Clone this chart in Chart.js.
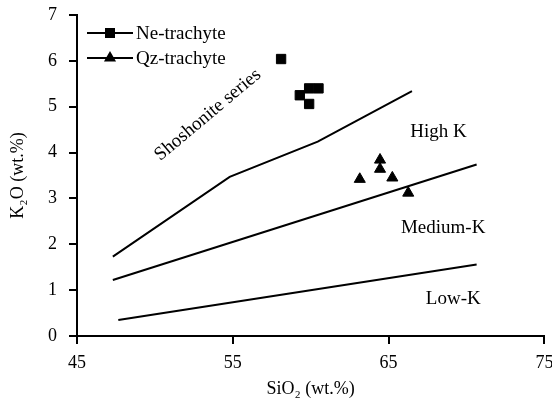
<!DOCTYPE html>
<html><head><meta charset="utf-8">
<script src="https://cdn.jsdelivr.net/npm/chart.js@4.4.1/dist/chart.umd.min.js"></script>
<style>html,body{margin:0;padding:0;background:#fff}</style>
</head><body>
<canvas id="c" width="552" height="406"></canvas>
<script>
// ---- data ----
const neTrachyteSiO2 = [58.1, 59.3, 59.9, 60.5, 59.9];
const neTrachyteK2O  = [6.04, 5.25, 5.40, 5.40, 5.06];
const qzTrachyteSiO2 = [64.45, 64.45, 63.15, 65.24, 66.26];
const qzTrachyteK2O  = [3.84, 3.64, 3.42, 3.45, 3.12];
const shoshoniteBoundarySiO2 = [47.3, 54.8, 60.45, 66.5];
const shoshoniteBoundaryK2O  = [1.73, 3.47, 4.24, 5.34];
const highKBoundarySiO2 = [47.3, 70.65];
const highKBoundaryK2O  = [1.22, 3.74];
const lowKBoundarySiO2 = [47.65, 70.65];
const lowKBoundaryK2O  = [0.35, 1.56];
const xTickValues = [45, 55, 65, 75];
const yTickValues = [0, 1, 2, 3, 4, 5, 6, 7];
const seriesNames = ['Ne-trachyte', 'Qz-trachyte'];
const regionNames = ['Shoshonite series', 'High K', 'Medium-K', 'Low-K'];
const regionSiO2 = [53.4, 68.2, 68.5, 69.15];
const regionK2O  = [4.82, 4.45, 2.36, 0.81];

const FONT = 'Liberation Serif, Times New Roman, serif';
const pts = (xs, ys) => xs.map((x, i) => ({x, y: ys[i]}));

const boundary = (xs, ys) => ({
  type: 'line', data: pts(xs, ys), showLine: true, pointRadius: 0,
  borderColor: '#000', borderWidth: 2, fill: false, tension: 0
});

const overlay = {
  id: 'overlay',
  afterDatasetsDraw(chart) {
    const ctx = chart.ctx;
    const xs = chart.scales.x, ys = chart.scales.y;
    ctx.save();
    ctx.fillStyle = '#000';
    ctx.strokeStyle = '#000';
    ctx.font = '19px ' + FONT;
    ctx.textBaseline = 'middle';
    // region labels
    regionNames.forEach((t, i) => {
      const px = xs.getPixelForValue(regionSiO2[i]);
      const py = ys.getPixelForValue(regionK2O[i]);
      ctx.save();
      ctx.translate(px, py);
      if (i === 0) ctx.rotate(-40 * Math.PI / 180);
      ctx.textAlign = 'center';
      ctx.fillText(t, 0, 0);
      ctx.restore();
    });
    // legend
    const rows = [33, 58];
    seriesNames.forEach((name, i) => {
      const y = rows[i];
      ctx.lineWidth = 2;
      ctx.beginPath(); ctx.moveTo(87, y); ctx.lineTo(133, y); ctx.stroke();
      const mx = 110;
      ctx.beginPath();
      if (i === 0) {
        ctx.rect(mx - 5, y - 5, 10, 10);
      } else {
        const r = 7;
        ctx.moveTo(mx, y - r);
        ctx.lineTo(mx + r * 0.866, y + r * 0.5);
        ctx.lineTo(mx - r * 0.866, y + r * 0.5);
        ctx.closePath();
      }
      ctx.fill();
      ctx.textAlign = 'left';
      ctx.fillText(name, 136, y + 1);
    });
    ctx.restore();
  }
};

new Chart(document.getElementById('c'), {
  type: 'scatter',
  data: {
    datasets: [
      {label: seriesNames[0], data: pts(neTrachyteSiO2, neTrachyteK2O), pointStyle: 'rect',
       pointRadius: 6.6, backgroundColor: '#000', borderColor: '#000', borderWidth: 1},
      {label: seriesNames[1], data: pts(qzTrachyteSiO2, qzTrachyteK2O), pointStyle: 'triangle',
       pointRadius: 6.4, backgroundColor: '#000', borderColor: '#000', borderWidth: 1},
      boundary(shoshoniteBoundarySiO2, shoshoniteBoundaryK2O),
      boundary(highKBoundarySiO2, highKBoundaryK2O),
      boundary(lowKBoundarySiO2, lowKBoundaryK2O)
    ]
  },
  options: {
    responsive: false, animation: false, devicePixelRatio: 1,
    layout: {padding: {left: 0, right: 6, top: 15, bottom: 0}},
    plugins: {legend: {display: false}, tooltip: {enabled: false}},
    scales: {
      x: {
        type: 'linear', min: 45, max: 75,
        afterBuildTicks: s => { s.ticks = xTickValues.map(v => ({value: v})); },
        afterFit: s => { s.height = 70; s.paddingRight = 0; s.paddingLeft = 0; },
        ticks: {color: '#000', font: {family: FONT, size: 18}, padding: 8, maxRotation: 0},
        grid: {display: true, drawOnChartArea: false, drawTicks: true, tickLength: 8, color: '#000', lineWidth: 2},
        border: {display: true, color: '#000', width: 2},
        title: {display: true, text: 'SiO\u2082 (wt.%)', color: '#000', font: {family: FONT, size: 18}, padding: {top: 0, bottom: 6}}
      },
      y: {
        type: 'linear', min: 0, max: 7,
        afterBuildTicks: s => { s.ticks = yTickValues.map(v => ({value: v})); },
        afterFit: s => { s.width = 77; s.paddingTop = 0; s.paddingBottom = 0; },
        ticks: {color: '#000', font: {family: FONT, size: 18}, padding: 12},
        grid: {display: true, drawOnChartArea: false, drawTicks: true, tickLength: 8, color: '#000', lineWidth: 2},
        border: {display: true, color: '#000', width: 2},
        title: {display: true, text: 'K\u2082O (wt.%)', color: '#000', font: {family: FONT, size: 18}, padding: {top: 7, bottom: 0}}
      }
    }
  },
  plugins: [overlay]
});
</script>
</body></html>
